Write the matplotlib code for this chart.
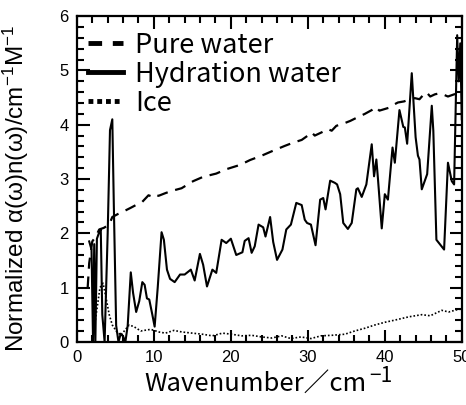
import matplotlib
matplotlib.use('Agg')
import matplotlib.pyplot as plt
from matplotlib.ticker import MultipleLocator

plt.rcParams['font.family'] = ['Liberation Sans', 'DejaVu Sans']
plt.rcParams['mathtext.fontset'] = 'custom'
plt.rcParams['mathtext.rm'] = 'Liberation Sans'
plt.rcParams['mathtext.it'] = 'Liberation Sans'

pure_x = [1.4, 1.6, 2.0, 2.5, 2.9, 3.5, 4.2, 4.6, 5.4, 6.3, 7.0, 7.8, 8.5, 9.3, 9.7, 10.1,
          10.6, 11.5, 12.3, 13.6, 15.1, 16.4, 18.1, 19.4, 21.2, 22.5, 24.0, 25.3, 27.0,
          28.1, 29.2, 30.0, 30.5, 30.9, 31.8, 32.6, 33.1, 33.7, 34.6, 35.5, 36.5, 37.4,
          38.3, 38.8, 39.3, 40.0, 40.7, 41.3, 41.7, 42.5, 43.3, 43.9, 44.5, 45.0, 45.4,
          45.9, 46.5, 47.1, 47.7, 48.2, 49.0, 50.0]
pure_y = [1.0, 1.45, 1.85, 1.95, 2.07, 2.1, 2.16, 2.3, 2.36, 2.42, 2.47, 2.53, 2.58, 2.7,
          2.68, 2.72, 2.69, 2.74, 2.78, 2.83, 2.96, 3.04, 3.1, 3.18, 3.26, 3.35, 3.43,
          3.51, 3.61, 3.67, 3.72, 3.8, 3.86, 3.8, 3.86, 3.92, 3.89, 3.98, 4.02, 4.07,
          4.14, 4.2, 4.27, 4.33, 4.26, 4.29, 4.32, 4.38, 4.41, 4.43, 4.47, 4.49, 4.47,
          4.55, 4.6, 4.52, 4.56, 4.58, 4.55, 4.52, 4.56, 4.6]

hyd_x = [1.6, 1.9, 2.1, 2.25, 2.4, 2.6, 2.85, 3.1, 3.3, 3.6, 4.0, 4.3, 4.6, 4.8, 5.1,
         5.4, 5.7, 6.0, 6.3, 6.6, 7.0, 7.3, 7.7, 8.1, 8.5, 8.8, 9.1, 9.4, 9.8, 10.1,
         10.5, 11.0, 11.3, 11.7, 12.1, 12.7, 13.4, 14.0, 14.8, 15.3, 15.98, 16.4, 16.9,
         17.6, 18.1, 18.8, 19.4, 20.0, 20.7, 21.5, 21.8, 22.3, 22.7, 23.1, 23.6, 24.2,
         24.5, 25.1, 25.5, 26.0, 26.7, 27.2, 27.8, 28.5, 29.2, 29.6, 29.9, 30.4, 31.0,
         31.6, 32.0, 32.3, 32.9, 33.5, 33.8, 34.2, 34.6, 35.2, 35.7, 36.3, 36.5, 37.0,
         37.6, 38.3, 38.6, 38.9, 39.1, 39.6, 40.0, 40.4, 41.0, 41.3, 41.9, 42.4, 42.6,
         42.9, 43.5, 44.0, 44.3, 44.5, 44.8, 45.5, 46.1, 46.3, 46.7, 47.7, 48.2, 48.7,
         49.0, 49.4, 49.6, 49.8, 50.0]
hyd_y = [1.85, 1.7, 0.0, 1.8, 0.0, 1.9, 2.0, 2.08, 0.5, 0.0, 2.0, 3.9, 4.1, 2.5, 0.3,
         0.0, 0.15, 0.1, 0.0, 0.3, 1.28, 0.9, 0.55, 0.75, 1.1, 1.05, 0.8, 0.78, 0.5,
         0.28, 1.0, 2.02, 1.88, 1.33, 1.16, 1.1, 1.24, 1.24, 1.33, 1.13, 1.62, 1.42,
         1.02, 1.33, 1.27, 1.88, 1.82, 1.9, 1.6, 1.65, 1.86, 1.91, 1.64, 1.76, 2.16,
         2.11, 1.94, 2.3, 1.84, 1.51, 1.7, 2.07, 2.16, 2.56, 2.52, 2.25, 2.19, 2.16,
         1.78, 2.62, 2.65, 2.44, 2.97, 2.93, 2.9, 2.72, 2.19, 2.08, 2.19, 2.81, 2.83,
         2.67, 2.9, 3.64, 3.05, 3.36, 3.02, 2.09, 2.72, 2.62, 3.58, 3.3, 4.27, 3.96,
         3.95, 3.65, 4.95, 3.77, 3.43, 3.36, 2.81, 3.09, 4.35, 3.89, 1.88, 1.7, 3.3,
         2.96, 2.9, 5.65, 4.8, 5.5, 4.1]

ice_x = [2.0, 2.5, 3.0, 3.4, 3.8, 4.2, 4.6, 5.2, 5.8, 6.2, 6.8, 7.4, 8.3, 9.6, 10.7,
         11.5, 12.6, 13.7, 15.0, 16.3, 17.6, 18.9, 20.1, 21.4, 22.7, 24.0, 25.3, 26.6,
         27.8, 29.1, 30.4, 31.7, 33.1, 34.8, 36.1, 37.4, 38.7, 40.0, 41.3, 43.1, 44.8,
         45.9, 47.4, 48.3, 49.6, 50.0]
ice_y = [0.0, 0.5, 1.0, 1.08, 0.8, 0.5, 0.31, 0.18, 0.12, 0.21, 0.31, 0.28, 0.2, 0.23,
         0.18, 0.16, 0.21, 0.18, 0.16, 0.14, 0.11, 0.16, 0.14, 0.11, 0.12, 0.09, 0.07,
         0.11, 0.06, 0.09, 0.06, 0.11, 0.12, 0.14, 0.2, 0.25, 0.31, 0.36, 0.4, 0.46,
         0.5, 0.48, 0.58, 0.55, 0.6, 0.6]

cjk = ['Noto Sans CJK JP', 'DejaVu Sans']

fig = plt.figure(figsize=(4.66, 4.05), dpi=100)
ax = fig.add_axes([0.165, 0.156, 0.826, 0.804])

ax.plot(pure_x, pure_y, color='black', lw=1.6, dashes=(5, 3.5), label='Pure water')
ax.plot(hyd_x, hyd_y, color='black', lw=1.5, label='Hydration water')
ax.plot(ice_x, ice_y, color='black', lw=1.2, linestyle=(0, (1, 1.2)), label='Ice')

ax.set_xlim(0, 50)
ax.set_ylim(0, 6)
ax.xaxis.set_major_locator(MultipleLocator(10))
ax.xaxis.set_minor_locator(MultipleLocator(2))
ax.yaxis.set_major_locator(MultipleLocator(1))
ax.yaxis.set_minor_locator(MultipleLocator(0.2))
ax.tick_params(which='both', direction='in', top=True, right=True, width=1.5,
               labelsize=12, pad=6)
ax.tick_params(which='major', length=9)
ax.tick_params(which='minor', length=5)
for s in ax.spines.values():
    s.set_linewidth(1.6)

ax.set_xlabel('Wavenumber／cm', fontsize=18.5, family=cjk)
ax.xaxis.set_label_coords(0.465, -0.088)
ax.set_ylabel('Normalized α(ω)n(ω)/cm$^{-1}$M$^{-1}$', fontsize=17.5)
ax.yaxis.set_label_coords(-0.118, 0.47)

leg = ax.legend(loc='upper left', bbox_to_anchor=(0.0, 0.986), frameon=False,
                handlelength=1.3, handletextpad=0.45, borderaxespad=0.1, borderpad=0.3,
                labelspacing=0.08, prop={'family': cjk, 'size': 19.5})
handles = leg.get_lines()
for h in handles:
    h.set_linewidth(3.5)
handles[0].set_dashes((2.8, 2.2))
handles[2].set_dashes((1.0, 0.8))

# big superscript after the x label
fig.canvas.draw()
bb = ax.xaxis.label.get_window_extent()
W, H = fig.bbox.width, fig.bbox.height
fig.text(bb.x1 / W + 0.004, bb.y1 / H - 0.014, '−1', fontsize=15, family=cjk,
         ha='left', va='center')

fig.savefig('out.png', dpi=100)
